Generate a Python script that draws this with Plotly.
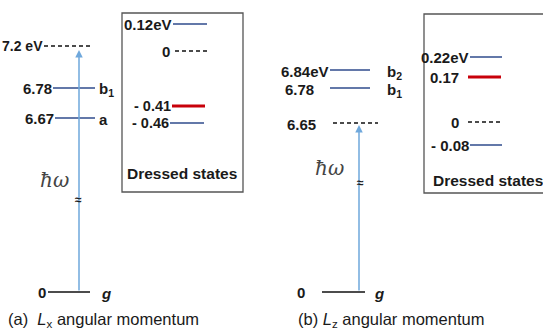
import plotly.graph_objects as go

# ---------------- data ----------------
# Panel (a): L_x angular momentum
a_level_values = ["7.2 eV", "6.78", "6.67"]
a_level_names = ["", "b<sub>1</sub>", "a"]
a_level_dashed = [True, False, False]
a_ground_value = "0"
a_ground_name = "g"
a_dressed_values = ["0.12eV", "0", "- 0.41", "- 0.46"]
a_dressed_kind = ["blue", "dash", "red", "blue"]
a_caption = "(a)  <i>L</i><sub>x</sub> angular momentum"

# Panel (b): L_z angular momentum
b_level_values = ["6.84eV", "6.78", "6.65"]
b_level_names = ["b<sub>2</sub>", "b<sub>1</sub>", ""]
b_level_dashed = [False, False, True]
b_ground_value = "0"
b_ground_name = "g"
b_dressed_values = ["0.22eV", "0.17", "0", "- 0.08"]
b_dressed_kind = ["blue", "red", "dash", "blue"]
b_caption = "(b) <i>L</i><sub>z</sub> angular momentum"

box_title = "Dressed states"
photon_label = "ħω"

# ---------------- layout (pixel positions) ----------------
W, H = 543, 332
BLUE = "#2f4b8c"
RED = "#c8000a"
ARROW = "#6fa8dc"
TXT = "#1a1a1a"
FONT = "Liberation Sans"
LS = 15  # label size

a_level_y = [46, 88, 118]
a_line_x = [(44, 91), (53, 95), (55, 95)]
b_level_y = [70, 88, 123]
b_line_x = [(330, 370), (330, 370), (333, 378)]
b_text_x = [331, 316, 318]

a_dressed_y = [24, 51, 106, 123]
a_dressed_line = [(173, 207), (175, 207), (172, 205), (170, 204)]
b_dressed_y = [57, 77, 122, 145]
b_dressed_line = [(470, 502), (468, 501), (468, 502), (470, 502)]

ground_y = 292

fig = go.Figure()
annotations = []


def add_line(x0, x1, y, kind):
    if kind == "dash":
        color, width, dash = "#111111", 1.6, "4px,3px"
    elif kind == "red":
        color, width, dash = RED, 3, "solid"
    elif kind == "black":
        color, width, dash = "#111111", 1.3, "solid"
    else:
        color, width, dash = BLUE, 1.5, "solid"
    fig.add_trace(go.Scatter(x=[x0, x1], y=[y, y], mode="lines",
                             line=dict(color=color, width=width, dash=dash),
                             hoverinfo="skip", showlegend=False))


def text(x, y, s, anchor="right", size=LS, bold=True, family=FONT, italic=False, color=TXT):
    if bold:
        s = "<b>" + s + "</b>"
    if italic:
        s = "<i>" + s + "</i>"
    annotations.append(dict(x=x, y=y, xref="x", yref="y", text=s, showarrow=False,
                            xanchor=anchor, yanchor="middle",
                            font=dict(family=family, size=size, color=color)))


# ----- panel (a) -----
for v, n, d, y, (x0, x1) in zip(a_level_values, a_level_names, a_level_dashed, a_level_y, a_line_x):
    add_line(x0, x1, y, "dash" if d else "blue")
    text(x0 + 1, y, v, size=(14 if d else LS))
    if n:
        text(x1 + 2, y + 1, n, anchor="left")
add_line(48, 90, ground_y, "black")
text(48, ground_y, a_ground_value)
text(99, ground_y + 1, a_ground_name, anchor="left", italic=True)
annotations.append(dict(x=79, y=50, ax=79, ay=ground_y, xref="x", yref="y", axref="x", ayref="y",
                        showarrow=True, arrowhead=2, arrowsize=1, arrowwidth=1.5,
                        arrowcolor=ARROW, text=""))
text(54, 180, photon_label, anchor="center", size=20, bold=False, family="DejaVu Serif", italic=True, color="#444444")
text(78, 200, "≈", anchor="center", size=12)

fig.add_shape(type="rect", x0=122, x1=243, y0=13, y1=192, xref="x", yref="y",
              line=dict(color="#555555", width=1.3))
for v, k, y, (x0, x1) in zip(a_dressed_values, a_dressed_kind, a_dressed_y, a_dressed_line):
    add_line(x0, x1, y, k)
    text(x0 + (-3 if k == "dash" else 1), y, v, size=(14.5 if "-" in v else LS))
text(182, 173, box_title, anchor="center", size=15.5)
text(6, 320, a_caption, anchor="left", size=16.5, bold=False, family="Liberation Sans")

# ----- panel (b) -----
for v, n, d, y, (x0, x1), tx in zip(b_level_values, b_level_names, b_level_dashed, b_level_y, b_line_x, b_text_x):
    add_line(x0, x1, y, "dash" if d else "blue")
    text(tx, y + 1, v)
    if n:
        text(385, y + 2, n, anchor="left")
add_line(322, 365, ground_y, "black")
text(307, ground_y, b_ground_value)
text(372, ground_y + 1, b_ground_name, anchor="left", italic=True)
annotations.append(dict(x=359, y=125, ax=359, ay=ground_y, xref="x", yref="y", axref="x", ayref="y",
                        showarrow=True, arrowhead=2, arrowsize=1, arrowwidth=1.5,
                        arrowcolor=ARROW, text=""))
text(329, 168, photon_label, anchor="center", size=20, bold=False, family="DejaVu Serif", italic=True, color="#444444")
text(360, 183, "≈", anchor="center", size=12)

fig.add_shape(type="rect", x0=424, x1=548, y0=14, y1=193, xref="x", yref="y",
              line=dict(color="#555555", width=1.3))
for v, k, y, (x0, x1) in zip(b_dressed_values, b_dressed_kind, b_dressed_y, b_dressed_line):
    add_line(x0, x1, y, k)
    text(x0 - (7 if k in ("dash", "red") else -1), y, v)
text(488, 180, box_title, anchor="center", size=15.5)
text(296, 320, b_caption, anchor="left", size=16.5, bold=False, family="Liberation Sans")

fig.update_layout(
    width=W, height=H, margin=dict(l=0, r=0, t=0, b=0),
    paper_bgcolor="white", plot_bgcolor="white",
    xaxis=dict(range=[0, W], visible=False, fixedrange=True),
    yaxis=dict(range=[H, 0], visible=False, fixedrange=True),
    annotations=annotations, showlegend=False,
)
fig.write_html("out.html")
